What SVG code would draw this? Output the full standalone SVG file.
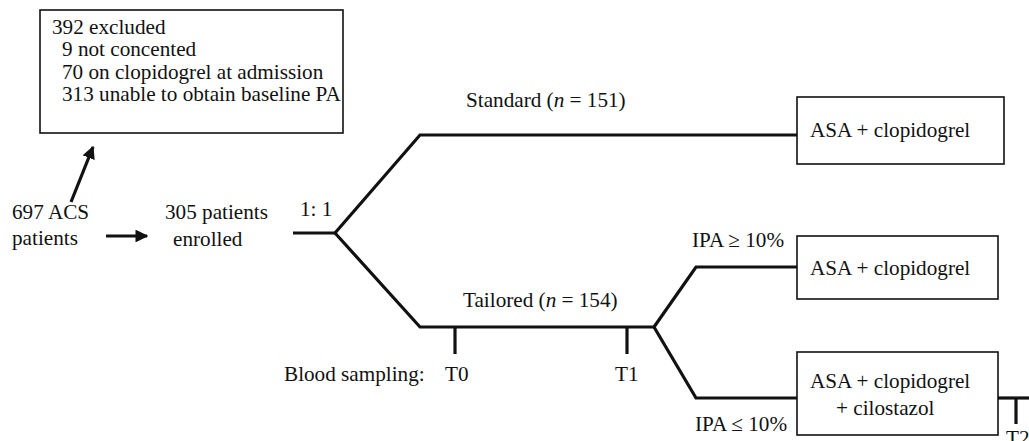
<svg xmlns="http://www.w3.org/2000/svg" width="1029" height="441" viewBox="0 0 1029 441">
<style>
.t{font-family:'Liberation Serif','Times New Roman',serif;font-size:21.2px;fill:#111}
.box{fill:#fff;stroke:#111;stroke-width:1.6}
.ln{fill:none;stroke:#111;stroke-width:3.2;stroke-linejoin:miter}
</style>
<defs>
<marker id="ah" viewBox="0 0 10 10" refX="9" refY="5" markerWidth="4" markerHeight="4" orient="auto" markerUnits="strokeWidth">
<path d="M0,0 L10,5 L0,10 z" fill="#111"/>
</marker>
</defs>
<rect width="1029" height="441" fill="#fff"/>
<g id="connectors">
<line class="ln" x1="71" y1="202" x2="93" y2="147" marker-end="url(#ah)"/>
<line class="ln" x1="106" y1="236" x2="147" y2="236" marker-end="url(#ah)"/>
<polyline class="ln" points="293,233 335,233"/>
<polyline class="ln" points="335,233 420,135 797,135"/>
<polyline class="ln" points="335,233 420,327 654,327"/>
<line class="ln" x1="455" y1="327" x2="455" y2="354"/>
<line class="ln" x1="627" y1="327" x2="627" y2="354"/>
<polyline class="ln" points="654,327 696,267 797,267"/>
<polyline class="ln" points="654,327 696,398 797,398"/>
<line class="ln" x1="998" y1="398" x2="1029" y2="398"/>
<line class="ln" x1="1016" y1="398" x2="1016" y2="424"/>
</g>
<g id="excluded">
<rect class="box" x="40" y="10" width="303" height="123"/>
<text class="t" x="52" y="34">392 excluded</text>
<text class="t" x="62" y="56">9 not concented</text>
<text class="t" x="62" y="79">70 on clopidogrel at admission</text>
<text class="t" x="62" y="101">313 unable to obtain baseline PA</text>
</g>
<g id="acs">
<text class="t" x="12" y="219">697 ACS</text>
<text class="t" x="12" y="245">patients</text>
</g>
<g id="enrolled">
<text class="t" x="165" y="219">305 patients</text>
<text class="t" x="173" y="246">enrolled</text>
</g>
<g id="labels">
<text class="t" x="300" y="216">1: 1</text>
<text class="t" x="466" y="107">Standard (<tspan font-style="italic">n</tspan> = 151)</text>
<text class="t" x="463" y="307">Tailored (<tspan font-style="italic">n</tspan> = 154)</text>
<text class="t" x="284" y="381">Blood sampling:</text>
<text class="t" x="445" y="381">T0</text>
<text class="t" x="615" y="381">T1</text>
<text class="t" x="692" y="247">IPA ≥ 10%</text>
<text class="t" x="695" y="431">IPA ≤ 10%</text>
<text class="t" x="1006" y="445">T2</text>
</g>
<g id="standard">
<rect class="box" x="797" y="97" width="207" height="67"/>
<text class="t" x="810" y="137">ASA + clopidogrel</text>
</g>
<g id="ipa-high">
<rect class="box" x="797" y="236" width="201" height="63"/>
<text class="t" x="810" y="275">ASA + clopidogrel</text>
</g>
<g id="ipa-low">
<rect class="box" x="797" y="352" width="201" height="83"/>
<text class="t" x="810" y="388">ASA + clopidogrel</text>
<text class="t" x="836" y="415">+ cilostazol</text>
</g>
</svg>
